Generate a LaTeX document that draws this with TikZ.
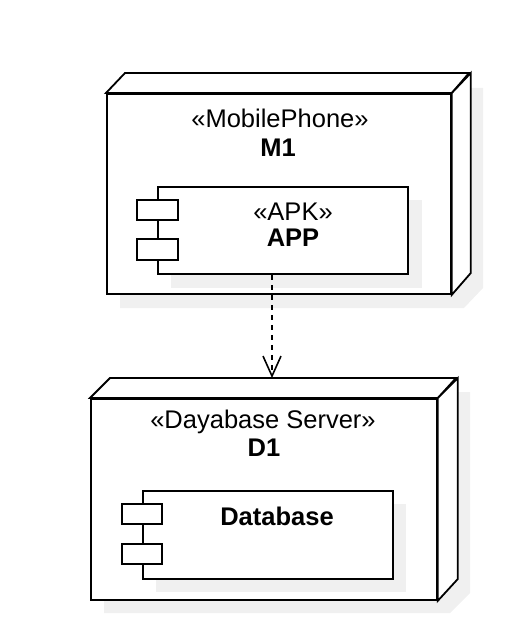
\documentclass[tikz,border=0pt]{standalone}
\usepackage{fontspec}
\setmainfont{Liberation Sans}
\usetikzlibrary{calc, arrows.meta}

\tikzset{
  box/.style={draw, line width=1.8pt, fill=white, inner sep=0pt},
  boxshade/.style={fill=black!6},
  port/.style={draw, line width=1.8pt, fill=white},
  deparrow/.style={line width=1.6pt, dash pattern=on 5pt off 5pt,
    -{Straight Barb[length=20pt, width=18pt, line width=1.6pt]}},
}

\begin{document}
\begin{tikzpicture}[x=1pt, y=-1pt, font=\fontsize{25.5}{30}\selectfont, text node/.style={inner sep=0pt}]
  \useasboundingbox (0,0) rectangle (526,628);
  % mobile phone M1
  \fill[boxshade] (120,308) -- (120,108) -- (139,88) -- (483,88) -- (483,288) -- (464,308) -- cycle;
  \node[box, minimum width=344pt, minimum height=200pt, anchor=north west] (m1) at (106,93) {};
  \draw[box] (m1.north west) -- ++(19,-20) -- ++(344,0) -- (m1.north east) -- cycle;
  \draw[box] (m1.north east) -- ++(19,-20) -- ++(0,200) -- (m1.south east) -- cycle;
  \node[text node] (m1type) at (280,118) {«MobilePhone»};
  \node[text node, font=\fontsize{25.5}{30}\selectfont\bfseries] (m1name) at (278,148) {M1};
  % component APP
  \fill[boxshade] (171,200) rectangle (422,288);
  \node[box, minimum width=250pt, minimum height=87pt, anchor=north west] (app) at (157,186) {};
  \draw[port] (137,200) rectangle (178,220);
  \draw[port] (137,239) rectangle (178,260);
  \node[text node] (apptype) at (293,212) {«APK»};
  \node[text node, font=\fontsize{25.5}{30}\selectfont\bfseries] (appname) at (293,238) {APP};
  % database server D1
  \fill[boxshade] (104,613) -- (104,412) -- (124,392) -- (470,392) -- (470,593) -- (450,613) -- cycle;
  \node[box, minimum width=346pt, minimum height=201pt, anchor=north west] (d1) at (90,398) {};
  \draw[box] (d1.north west) -- ++(20,-20) -- ++(346,0) -- (d1.north east) -- cycle;
  \draw[box] (d1.north east) -- ++(20,-20) -- ++(0,201) -- (d1.south east) -- cycle;
  \node[text node] (d1type) at (263,422) {«Dayabase Server»};
  \node[text node, font=\fontsize{25.5}{30}\selectfont\bfseries] (d1name) at (264,448) {D1};
  % component Database
  \fill[boxshade] (156,504) rectangle (406,592);
  \node[box, minimum width=250pt, minimum height=88pt, anchor=north west] (db) at (142,490) {};
  \draw[port] (122,504) rectangle (162,524);
  \draw[port] (122,544) rectangle (162,564);
  \node[text node, font=\fontsize{25.5}{30}\selectfont\bfseries] (dbname) at (277,516) {Database};
  % dependency
  \coordinate (d1top) at (272,378);
  \draw[deparrow] (app.south -| d1top) -- (d1top);
\end{tikzpicture}
\end{document}
